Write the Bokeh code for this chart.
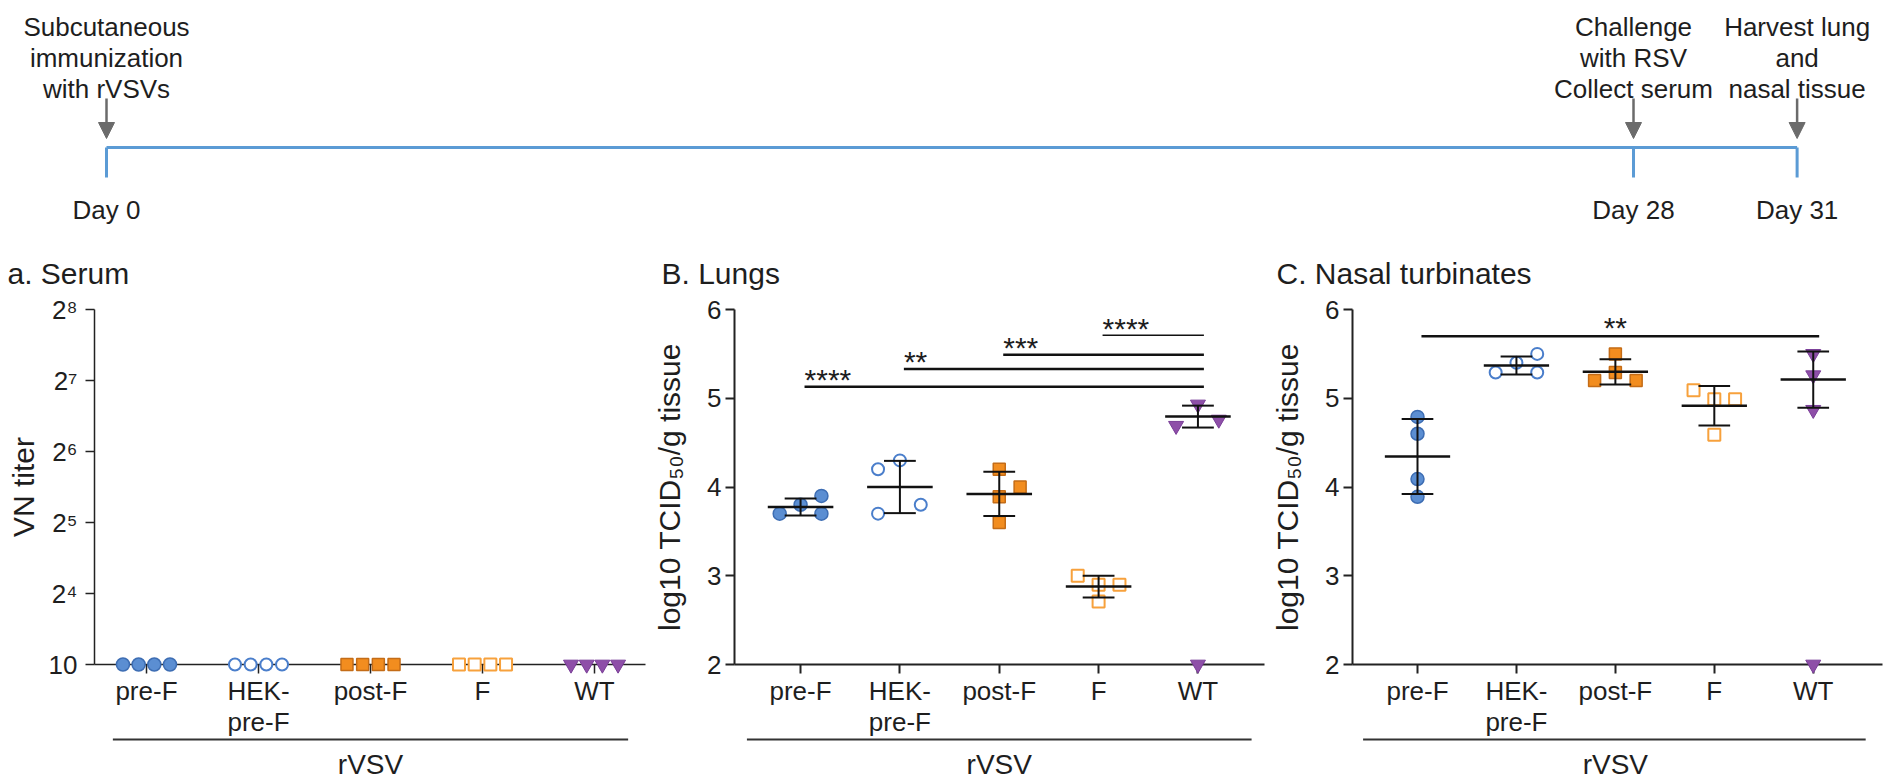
import numpy as np
from bokeh.plotting import figure
from bokeh.models import Range1d, FixedTicker, Arrow, NormalHead
from bokeh.layouts import column, row
from bokeh.embed import file_html
from bokeh.resources import INLINE
from bokeh.core.properties import value

# ------------------------------------------------------------------ data
timeline_days = [0, 28, 31]
timeline_day_labels = ["Day 0", "Day 28", "Day 31"]
timeline_events = [
    ["Subcutaneous", "immunization", "with rVSVs"],
    ["Challenge", "with RSV", "Collect serum"],
    ["Harvest lung", "and", "nasal tissue"],
]

groups = ["pre-F", "HEK-pre-F", "post-F", "F", "WT"]
group_tick_labels = ["pre-F", "HEK-\npre-F", "post-F", "F", "WT"]
group_title = "rVSV"

# serum VN titer on a log2 axis; the bottom tick (position 3) is labelled "10" (detection limit)
serum_ticks = [3, 4, 5, 6, 7, 8]
serum_tick_labels = ["10", "2\u2074", "2\u2075", "2\u2076", "2\u2077", "2\u2078"]
serum_log2 = {
    "pre-F": [3, 3, 3, 3],
    "HEK-pre-F": [3, 3, 3, 3],
    "post-F": [3, 3, 3, 3],
    "F": [3, 3, 3, 3],
    "WT": [3, 3, 3, 3],
}

# log10 TCID50 / g tissue ; 2.0 = detection limit (excluded from mean/SD)
detect_limit = 2.0
lung = {
    "pre-F": [3.70, 3.80, 3.90, 3.70],
    "HEK-pre-F": [4.20, 4.30, 3.70, 3.80],
    "post-F": [4.20, 4.00, 3.89, 3.60],
    "F": [3.00, 2.90, 2.90, 2.71],
    "WT": [4.93, 4.69, 4.76, 2.00],
}
nasal = {
    "pre-F": [4.79, 4.60, 4.09, 3.89],
    "HEK-pre-F": [5.29, 5.40, 5.50, 5.29],
    "post-F": [5.20, 5.50, 5.29, 5.20],
    "F": [5.09, 4.99, 4.99, 4.59],
    "WT": [5.50, 5.26, 4.87, 2.00],
}
tissue_ticks = [2, 3, 4, 5, 6]

# significance brackets: (from group, to group, label, height)
lung_sig = [("pre-F", "WT", "****", 5.13), ("HEK-pre-F", "WT", "**", 5.33),
            ("post-F", "WT", "***", 5.49), ("F", "WT", "****", 5.71)]
nasal_sig = [("pre-F", "WT", "**", 5.70)]

# ------------------------------------------------------------------ layout / style
FONT = "Liberation Sans"
TXT = "#1e1e1e"
AX = "#222222"

serum_jitter = {g: [-0.21, -0.07, 0.07, 0.21] for g in groups}
lung_jitter = {
    "pre-F": [-0.21, 0, 0.21, 0.21],
    "HEK-pre-F": [-0.22, 0, -0.22, 0.21],
    "post-F": [0, 0.21, 0, 0],
    "F": [-0.21, 0, 0.21, 0],
    "WT": [0, -0.22, 0.21, 0],
}
nasal_jitter = {
    "pre-F": [0, 0, 0, 0],
    "HEK-pre-F": [-0.21, 0, 0.21, 0.21],
    "post-F": [-0.21, 0, 0, 0.21],
    "F": [-0.21, 0, 0.21, 0],
    "WT": [0, 0, 0, 0],
}

marker_style = {
    "pre-F": dict(marker="circle", fill_color="#5b8ed2", line_color="#3d6db3", size=13, line_width=1.5),
    "HEK-pre-F": dict(marker="circle", fill_color="white", line_color="#4a7ecb", size=12, line_width=2),
    "post-F": dict(marker="square", fill_color="#f28d1f", line_color="#c46c17", size=12, line_width=1.5),
    "F": dict(marker="square", fill_color="white", line_color="#f7a13c", size=12, line_width=2),
    "WT": dict(marker="inverted_triangle", fill_color="#8e4fa8", line_color="#7a3e98", size=15, line_width=1),
}

# ------------------------------------------------------------------ timeline
TOP_W, TOP_H = 1890, 228
PX_PER_DAY = 54.536
DAY0_PX = 106
LINE_Y, TICK_Y = 147, 177
ARROW_TOP, ARROW_TIP = 98, 138
TEXT_BASE = [26, 57, 88]
DAY_BASE = 209
BLUE = "#5b9bd5"
GRAY = "#6b6b6b"

top = figure(width=TOP_W, height=TOP_H,
             x_range=Range1d(-DAY0_PX / PX_PER_DAY, (TOP_W - DAY0_PX) / PX_PER_DAY),
             y_range=Range1d(TOP_H, 0), min_border=0, title=None,
             x_axis_location=None, y_axis_location=None,
             toolbar_location=None, output_backend="svg")
top.outline_line_color = None
top.xgrid.visible = False
top.ygrid.visible = False

top.line(x=[timeline_days[0], timeline_days[-1]], y=[LINE_Y, LINE_Y],
         line_color=BLUE, line_width=3)
top.segment(x0=timeline_days, y0=[LINE_Y] * 3, x1=timeline_days, y1=[TICK_Y] * 3,
            line_color=BLUE, line_width=3)
for d in timeline_days:
    top.add_layout(Arrow(end=NormalHead(size=16, fill_color=GRAY, line_color=GRAY),
                         x_start=d, y_start=ARROW_TOP, x_end=d, y_end=ARROW_TIP,
                         line_color=GRAY, line_width=2.5))
tx, ty, tt = [], [], []
for d, lines in zip(timeline_days, timeline_events):
    for j, s in enumerate(lines):
        tx.append(d); ty.append(TEXT_BASE[j]); tt.append(s)
top.text(x=tx, y=ty, text=tt, text_align="center", text_baseline="alphabetic",
         level="overlay",
         text_font=value(FONT), text_font_size=value("26px"), text_color=TXT)
top.text(x=timeline_days, y=[DAY_BASE] * 3, text=timeline_day_labels,
         text_align="center", text_baseline="alphabetic", level="overlay",
         text_font=value(FONT), text_font_size=value("26px"), text_color=TXT)

# ------------------------------------------------------------------ panels
PANEL_H = 781 - TOP_H
FRAME_TOP = 309          # page y of the top of the value axes
BORDER_TOP = FRAME_TOP - TOP_H
FRAME_H = 355
BORDER_BOTTOM = PANEL_H - BORDER_TOP - FRAME_H
RULE_PX = 75      # group bracket line, px below the x axis
GLABEL_PX = 100   # baseline of the group label, px below the x axis


def make_panel(width, b_left, b_right, title, title_offset, xr, yr, yticks, ylabels,
               ylabel, ylabel_standoff, yl_label_standoff, rv_bounds, ax_w, data, jitter,
               stats, sig, sig_center):
    ppu = FRAME_H / (yr[1] - yr[0])

    def below(px):
        return yr[0] - px / ppu

    p = figure(width=width, height=PANEL_H, x_range=Range1d(*xr), y_range=Range1d(*yr),
               min_border_left=b_left, min_border_right=b_right,
               min_border_top=BORDER_TOP, min_border_bottom=BORDER_BOTTOM,
               title=title, toolbar_location=None, output_backend="svg")
    p.title.align = "left"
    p.title.offset = title_offset
    p.title.text_font = FONT
    p.title.text_font_size = "30px"
    p.title.text_font_style = "normal"
    p.title.text_color = TXT
    p.title.standoff = 40
    p.xgrid.visible = False
    p.ygrid.visible = False
    p.outline_line_color = None

    xa = p.xaxis[0]
    xa.ticker = FixedTicker(ticks=list(range(len(groups))))
    xa.major_label_overrides = {i: s for i, s in enumerate(group_tick_labels)}
    xa.major_tick_out = 9
    xa.major_tick_in = 0
    xa.minor_tick_out = 0
    xa.minor_tick_in = 0
    xa.major_tick_line_width = ax_w
    xa.major_tick_line_color = AX
    xa.axis_line_width = ax_w
    xa.axis_line_color = AX
    xa.major_label_standoff = 2
    xa.major_label_text_font = FONT
    xa.major_label_text_font_size = "26px"
    xa.major_label_text_line_height = 1.05
    xa.major_label_text_color = TXT

    ya = p.yaxis[0]
    ya.ticker = FixedTicker(ticks=yticks)
    ya.major_label_overrides = {t: s for t, s in zip(yticks, ylabels)}
    ya.major_tick_out = 9
    ya.major_tick_in = 0
    ya.minor_tick_out = 0
    ya.minor_tick_in = 0
    ya.major_tick_line_width = ax_w
    ya.major_tick_line_color = AX
    ya.axis_line_width = ax_w
    ya.axis_line_color = AX
    ya.major_label_standoff = yl_label_standoff
    ya.major_label_text_font = FONT
    ya.major_label_text_font_size = "26px"
    ya.major_label_text_color = TXT
    ya.axis_label = ylabel
    ya.axis_label_text_font = FONT
    ya.axis_label_text_font_size = "30px"
    ya.axis_label_text_font_style = "normal"
    ya.axis_label_text_color = TXT
    ya.axis_label_standoff = ylabel_standoff

    # group bracket + group name under the category labels
    p.segment(x0=[rv_bounds[0]], y0=[below(RULE_PX)], x1=[rv_bounds[1]], y1=[below(RULE_PX)],
              line_color="#333333", line_width=2, level="overlay")
    p.text(x=[(len(groups) - 1) / 2], y=[below(GLABEL_PX)], text=[group_title],
           text_align="center", text_baseline="alphabetic", level="overlay",
           text_font=value(FONT), text_font_size=value("28px"), text_color=TXT)

    for i, g in enumerate(groups):
        vals = data[g]
        xs = [i + j for j in jitter[g]]
        p.scatter(x=xs, y=vals, level="overlay", **marker_style[g])

    if stats:
        mx0, mx1, my, vx, vy0, vy1, cx0, cx1, cy = [], [], [], [], [], [], [], [], []
        for i, g in enumerate(groups):
            v = np.array([a for a in data[g] if a > detect_limit])
            m, s = v.mean(), v.std(ddof=1)
            mx0.append(i - 0.33); mx1.append(i + 0.33); my.append(m)
            vx.append(i); vy0.append(m - s); vy1.append(m + s)
            for c in (m - s, m + s):
                cx0.append(i - 0.16); cx1.append(i + 0.16); cy.append(c)
        p.segment(x0=mx0, y0=my, x1=mx1, y1=my, line_color="#111111", line_width=2.5, level="overlay")
        p.segment(x0=vx, y0=vy0, x1=vx, y1=vy1, line_color="#111111", line_width=2, level="overlay")
        p.segment(x0=cx0, y0=cy, x1=cx1, y1=cy, line_color="#111111", line_width=2, level="overlay")

    if sig:
        x0 = [groups.index(a) + 0.04 for a, b, t, h in sig]
        x1 = [groups.index(b) + 0.06 for a, b, t, h in sig]
        hs = [h for a, b, t, h in sig]
        labels = [t for a, b, t, h in sig]
        widths = [2.5] * len(sig)
        if len(sig) > 1:
            widths[-1] = 1.5
        p.segment(x0=x0, y0=hs, x1=x1, y1=hs, line_color="#111111", line_width=widths)
        if sig_center:
            lx = [(groups.index(a) + groups.index(b)) / 2 for a, b, t, h in sig]
            align = "center"
            yoff = -9
        else:
            lx = x0
            align = "left"
            yoff = -7
        p.text(x=lx, y=hs, text=labels, text_align=align, text_baseline="middle",
               y_offset=yoff, text_font=value(FONT), text_font_size=value("30px"),
               text_color=TXT)
    return p


pa = make_panel(650, 94, 5, "a. Serum", -87, (-0.464, 4.455), (3, 8), serum_ticks,
                serum_tick_labels, "VN titer", 6, 8, (-0.30, 4.30), 1.5,
                serum_log2, serum_jitter, False, None, False)
pb = make_panel(618, 84, 4, "B. Lungs", -73, (-0.665, 4.67), (2, 6), tissue_ticks,
                [str(t) for t in tissue_ticks], "log10 TCID\u2085\u2080/g tissue", 18, 4,
                (-0.54, 4.54), 2, lung, lung_jitter, True, lung_sig, False)
pc = make_panel(622, 84, 8, "C. Nasal turbinates", -76, (-0.657, 4.70), (2, 6), tissue_ticks,
                [str(t) for t in tissue_ticks], "log10 TCID\u2085\u2080/g tissue", 18, 4,
                (-0.55, 4.53), 2, nasal, nasal_jitter, True, nasal_sig, True)

layout = column(top, row(pa, pb, pc))
open("out.html", "w").write(file_html(layout, INLINE))
